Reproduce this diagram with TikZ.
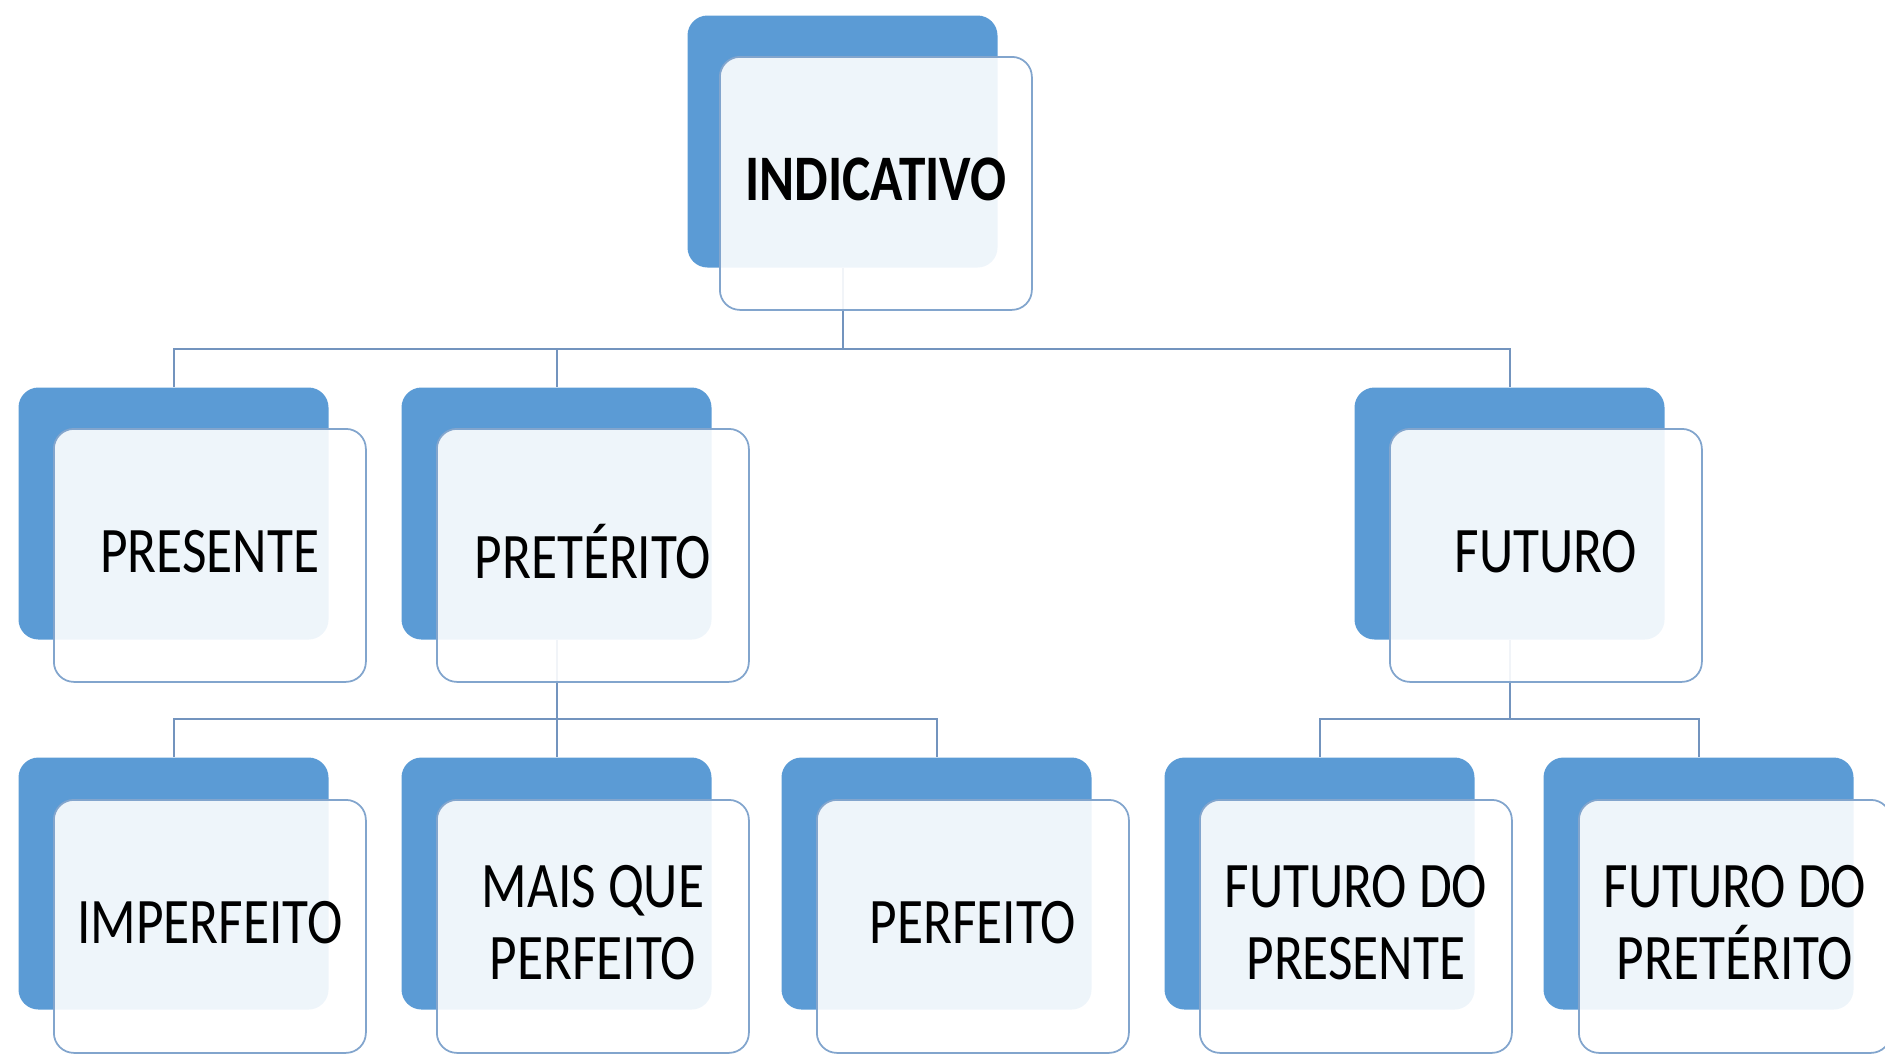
\documentclass[tikz,border=0pt]{standalone}
\usepackage{fontspec}
\usepackage{graphicx}
\setmainfont{Carlito}
\definecolor{backblue}{RGB}{91,155,213}
\definecolor{frontedge}{RGB}{130,165,205}
\definecolor{linkcol}{RGB}{115,148,190}
\newcommand\sq[1]{\scalebox{0.82}[1]{#1}}
\tikzset{
  backbox/.style={draw=none, fill=backblue, rounded corners=8pt, anchor=north west,
    minimum width=124pt, minimum height=100.8pt, inner sep=0pt},
  frontbox/.style={draw=frontedge, line width=0.7pt, fill=white, fill opacity=0.9,
    rounded corners=8pt, anchor=north west, minimum width=124.8pt, minimum height=101.2pt,
    inner sep=0pt},
  lbl/.style={align=center, inner sep=0pt, yshift=1.5pt, font=\fontsize{26}{28.8}\selectfont},
  link/.style={draw=linkcol, line width=0.8pt}
}
\begin{document}
\begin{tikzpicture}[x=0.4pt,y=-0.4pt]
\useasboundingbox (0,0) rectangle (1885,1056);
\coordinate (busA) at (0,349);
\coordinate (busB) at (0,719);
\coordinate (busC) at (0,719);
% back boxes
\node[backbox] (indB) at (687,15) {};
\node[backbox] (preB) at (18,387) {};
\node[backbox] (pretB) at (401,387) {};
\node[backbox] (futB) at (1354,387) {};
\node[backbox] (impB) at (18,757) {};
\node[backbox] (maisB) at (401,757) {};
\node[backbox] (perfB) at (781,757) {};
\node[backbox] (fpB) at (1164,757) {};
\node[backbox] (fptB) at (1543,757) {};
% connectors
\draw[link] (indB.south) -- (indB.south |- busA) -| (preB.north);
\draw[link] (indB.south |- busA) -| (pretB.north);
\draw[link] (indB.south |- busA) -| (futB.north);
\draw[link] (pretB.south) -- (pretB.south |- busB) -| (impB.north);
\draw[link] (pretB.south |- busB) -| (maisB.north);
\draw[link] (pretB.south |- busB) -| (perfB.north);
\draw[link] (futB.south) -- (futB.south |- busC) -| (fpB.north);
\draw[link] (futB.south |- busC) -| (fptB.north);
% front boxes
\node[frontbox] (indF) at (719,56) {};
\node[frontbox] (preF) at (53,428) {};
\node[frontbox] (pretF) at (436,428) {};
\node[frontbox] (futF) at (1389,428) {};
\node[frontbox] (impF) at (53,799) {};
\node[frontbox] (maisF) at (436,799) {};
\node[frontbox] (perfF) at (816,799) {};
\node[frontbox] (fpF) at (1199,799) {};
\node[frontbox] (fptF) at (1578,799) {};
% labels
\node[lbl, font=\fontsize{26}{28.8}\selectfont\bfseries] (indT) at (indF.center) {\sq{INDICATIVO}};
\node[lbl] (preT) at (preF.center) {\sq{PRESENTE}};
\node[lbl] (pretT) at (pretF.center) {\sq{PRETÉRITO}};
\node[lbl] (futT) at (futF.center) {\sq{FUTURO}};
\node[lbl] (impT) at (impF.center) {\sq{IMPERFEITO}};
\node[lbl] (maisT) at (maisF.center) {\sq{MAIS QUE}\\\sq{PERFEITO}};
\node[lbl] (perfT) at (perfF.center) {\sq{PERFEITO}};
\node[lbl] (fpT) at (fpF.center) {\sq{FUTURO DO}\\\sq{PRESENTE}};
\node[lbl] (fptT) at (fptF.center) {\sq{FUTURO DO}\\\sq{PRETÉRITO}};
\end{tikzpicture}
\end{document}
